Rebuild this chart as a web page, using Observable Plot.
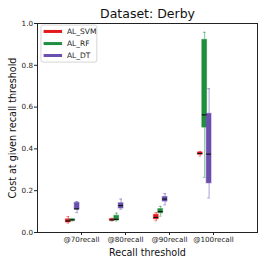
<!DOCTYPE html>
<html><head><meta charset="utf-8">
<script src="https://cdn.jsdelivr.net/npm/d3@7"></script>
<script src="https://cdn.jsdelivr.net/npm/@observablehq/plot@0.6"></script>
<style>body{margin:0;background:#fff}svg{display:block}</style>
</head><body><div id="chart"></div>
<script>
const categories = ["@70recall", "@80recall", "@90recall", "@100recall"];
const models = ["AL_SVM", "AL_RF", "AL_DT"];
const colors = ["#e3191c", "#1f8e3e", "#6a4fae"];
const offsets = [-0.3, -0.2, -0.1];

const svmLow = [0.045, 0.055, 0.056, 0.366];
const svmQ1 = [0.048, 0.057, 0.063, 0.372];
const svmMed = [0.055, 0.060, 0.072, 0.378];
const svmQ3 = [0.063, 0.064, 0.085, 0.383];
const svmHigh = [0.076, 0.068, 0.095, 0.388];

const rfLow = [0.055, 0.055, 0.078, 0.264];
const rfQ1 = [0.057, 0.058, 0.092, 0.502];
const rfMed = [0.060, 0.063, 0.100, 0.563];
const rfQ3 = [0.063, 0.080, 0.112, 0.922];
const rfHigh = [0.065, 0.093, 0.125, 0.958];

const dtLow = [0.095, 0.111, 0.132, 0.165];
const dtQ1 = [0.110, 0.115, 0.148, 0.235];
const dtMed = [0.113, 0.129, 0.160, 0.375];
const dtQ3 = [0.142, 0.140, 0.170, 0.568];
const dtHigh = [0.148, 0.160, 0.186, 0.688];

const stats = [
  [svmLow, svmQ1, svmMed, svmQ3, svmHigh],
  [rfLow, rfQ1, rfMed, rfQ3, rfHigh],
  [dtLow, dtQ1, dtMed, dtQ3, dtHigh]
];

const rows = [];
models.forEach((m, mi) => {
  categories.forEach((c, ci) => {
    const [lo, q1, med, q3, hi] = stats[mi].map(a => a[ci]);
    rows.push({model: m, color: colors[mi], x: ci + 1 + offsets[mi], lo, q1, med, q3, hi});
  });
});

const hw = 0.055, cw = 0.03;
const legendY = [0.962, 0.904, 0.847];

const plot = Plot.plot({
  width: 266, height: 266,
  marginLeft: 37, marginRight: 9, marginTop: 23, marginBottom: 34,
  style: {fontFamily: "DejaVu Sans", fontSize: "7.2px", color: "#222", background: "#fff"},
  x: {domain: [0, 5], ticks: [1, 2, 3, 4], tickFormat: d => categories[d - 1], tickSize: 3, tickPadding: 1, label: null},
  y: {domain: [0, 1], ticks: [0, 0.2, 0.4, 0.6, 0.8, 1.0], tickFormat: ".1f", tickSize: 3, tickPadding: 1.5, label: null},
  marks: [
    Plot.frame({stroke: "#222", strokeWidth: 1}),
    // whiskers
    Plot.ruleX(rows, {x: "x", y1: "lo", y2: "q1", stroke: "color", strokeOpacity: 0.55, strokeWidth: 1}),
    Plot.ruleX(rows, {x: "x", y1: "q3", y2: "hi", stroke: "color", strokeOpacity: 0.55, strokeWidth: 1}),
    Plot.ruleY(rows, {y: "lo", x1: d => d.x - cw, x2: d => d.x + cw, stroke: "color", strokeOpacity: 0.55, strokeWidth: 1}),
    Plot.ruleY(rows, {y: "hi", x1: d => d.x - cw, x2: d => d.x + cw, stroke: "color", strokeOpacity: 0.55, strokeWidth: 1}),
    // boxes
    Plot.rectY(rows, {x1: d => d.x - hw, x2: d => d.x + hw, y1: "q1", y2: "q3", fill: "color", stroke: "color", strokeOpacity: 0.5, strokeWidth: 1}),
    // medians
    Plot.ruleY(rows, {y: "med", x1: d => d.x - hw, x2: d => d.x + hw, stroke: "#111", strokeWidth: 1.2}),
    // legend
    Plot.rect([0], {x1: 0.09, x2: 1.36, y1: 0.813, y2: 0.99, fill: "#fff", stroke: "#ccc", strokeWidth: 0.8, rx: 2}),
    Plot.ruleY(models, {y: (d, i) => legendY[i], x1: 0.15, x2: 0.57, stroke: (d, i) => colors[i], strokeWidth: 3}),
    Plot.text(models, {x: 0.67, y: (d, i) => legendY[i], text: d => d, textAnchor: "start", fontSize: 7.5, fill: "#222"}),
    // axis labels
    Plot.text(["Recall threshold"], {frameAnchor: "bottom", dy: 20, lineAnchor: "middle", textAnchor: "middle", text: d => d, fontSize: 9.6, fill: "#111"}),
    Plot.text(["Cost at given recall threshold"], {frameAnchor: "left", dx: -25, rotate: -90, lineAnchor: "middle", textAnchor: "middle", text: d => d, fontSize: 9.6, fill: "#111"}),
    // title
    Plot.text(["Dataset: Derby"], {frameAnchor: "top", dy: -10, lineAnchor: "middle", textAnchor: "middle", text: d => d, fontSize: 12.5, fill: "#111"})
  ]
});
document.getElementById("chart").appendChild(plot);
</script></body></html>
